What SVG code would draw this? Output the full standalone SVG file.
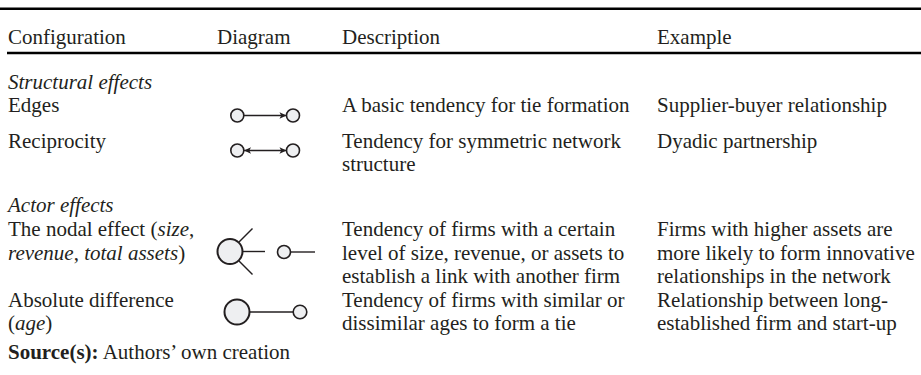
<svg xmlns="http://www.w3.org/2000/svg" width="921" height="375" viewBox="0 0 921 375">
  <style>
    text { font-family: "Liberation Serif", "Times New Roman", serif; font-size: 21px; fill: #231f20; }
    .it { font-style: italic; }
    .b { font-weight: bold; }
    .rule { stroke: #000; stroke-width: 2.6; }
    .node { fill: #eeeff1; stroke: #231f20; stroke-width: 1.6; }
    .big { fill: #eeeff1; stroke: #231f20; stroke-width: 2; }
    .tie { stroke: #231f20; stroke-width: 1.4; fill: none; }
  </style>
  <defs>
    <marker id="head" viewBox="0 0 8 8" refX="7.5" refY="4" markerWidth="8" markerHeight="8" markerUnits="userSpaceOnUse" orient="auto-start-reverse">
      <path d="M0.5,0.8 L7.5,4 L0.5,7.2 L2.2,4 Z" fill="#231f20"/>
    </marker>
  </defs>

  <rect width="921" height="375" fill="#fff"/>

  <!-- table rules -->
  <line class="rule" x1="0" y1="8.7" x2="921" y2="8.7"/>
  <line class="rule" x1="7" y1="53" x2="921" y2="53"/>

  <!-- header row -->
  <g id="header">
    <text x="8" y="44">Configuration</text>
    <text x="217" y="44">Diagram</text>
    <text x="342" y="44">Description</text>
    <text x="657" y="44">Example</text>
  </g>

  <!-- first column -->
  <g id="configurations">
    <text class="it" x="8" y="89">Structural effects</text>
    <text x="8" y="112">Edges</text>
    <text x="8" y="148">Reciprocity</text>
    <text class="it" x="8" y="212">Actor effects</text>
    <text x="8" y="236">The nodal effect (<tspan class="it">size</tspan>,</text>
    <text x="8" y="259.5"><tspan class="it">revenue</tspan>, <tspan class="it">total assets</tspan>)</text>
    <text x="8" y="306.5">Absolute difference</text>
    <text x="8" y="330">(<tspan class="it">age</tspan>)</text>
  </g>

  <!-- description column -->
  <g id="descriptions">
    <text x="342" y="112">A basic tendency for tie formation</text>
    <text x="342" y="148">Tendency for symmetric network</text>
    <text x="342" y="171">structure</text>
    <text x="342" y="236">Tendency of firms with a certain</text>
    <text x="342" y="259.5">level of size, revenue, or assets to</text>
    <text x="342" y="283">establish a link with another firm</text>
    <text x="342" y="306.5">Tendency of firms with similar or</text>
    <text x="342" y="330">dissimilar ages to form a tie</text>
  </g>

  <!-- example column -->
  <g id="examples">
    <text x="657" y="112">Supplier-buyer relationship</text>
    <text x="657" y="148">Dyadic partnership</text>
    <text x="657" y="236">Firms with higher assets are</text>
    <text x="657" y="259.5">more likely to form innovative</text>
    <text x="657" y="283">relationships in the network</text>
    <text x="657" y="306.5">Relationship between long-</text>
    <text x="657" y="330">established firm and start-up</text>
  </g>

  <!-- connectors of the small diagrams -->
  <g id="connectors">
    <line class="tie" x1="244" y1="115.5" x2="286.5" y2="115.5" marker-end="url(#head)"/>
    <line class="tie" x1="244" y1="150.5" x2="286.5" y2="150.5" marker-start="url(#head)" marker-end="url(#head)"/>
    <line class="tie" x1="239" y1="242" x2="252.5" y2="228.5"/>
    <line class="tie" x1="242.5" y1="251.5" x2="265" y2="251.5"/>
    <line class="tie" x1="239" y1="261" x2="252.5" y2="274.5"/>
    <line class="tie" x1="290.5" y1="252" x2="315" y2="252"/>
    <line class="tie" x1="249.5" y1="312" x2="293" y2="312"/>
  </g>

  <!-- nodes -->
  <g id="edges-a"><circle class="node" cx="237.3" cy="115.5" r="6.5"/></g>
  <g id="edges-b"><circle class="node" cx="293" cy="115.5" r="6.5"/></g>
  <g id="recip-a"><circle class="node" cx="237.3" cy="150.5" r="6.5"/></g>
  <g id="recip-b"><circle class="node" cx="293" cy="150.5" r="6.5"/></g>
  <g id="nodal-big"><circle class="big" cx="230" cy="251.5" r="12.5"/></g>
  <g id="nodal-small"><circle class="node" cx="284" cy="252" r="6.5"/></g>
  <g id="absdiff-big"><circle class="big" cx="237" cy="312" r="12.5"/></g>
  <g id="absdiff-small"><circle class="node" cx="300" cy="312" r="6.8"/></g>

  <!-- source note -->
  <g id="source">
    <text x="8" y="359"><tspan class="b">Source(s):</tspan> Authors’ own creation</text>
  </g>
</svg>
